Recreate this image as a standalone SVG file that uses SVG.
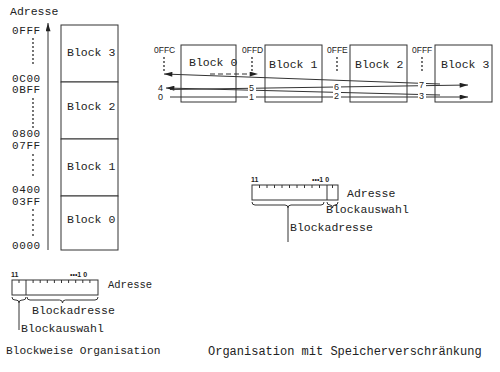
<svg xmlns="http://www.w3.org/2000/svg" width="500" height="372" viewBox="0 0 500 372">
<defs>
<marker id="ar" viewBox="0 0 10 6" refX="10" refY="3" markerWidth="9" markerHeight="5" orient="auto" markerUnits="userSpaceOnUse"><path d="M0,0 L10,3 L0,6 Z" fill="#222"/></marker>
</defs>
<style>
.t{font-family:"Liberation Mono",monospace;fill:#222}
.m{font-size:11.5px}
.a{font-size:11px;letter-spacing:0.6px}
.s{font-family:"Liberation Sans",sans-serif;font-size:8.5px;fill:#222}
.n{font-family:"Liberation Sans",sans-serif;font-size:9px;fill:#222}
.b{font-family:"Liberation Sans",sans-serif;font-size:7px;font-weight:bold;fill:#222}
.box{fill:#fff;stroke:#333;stroke-width:1}
.ln{fill:none;stroke:#333;stroke-width:1}
.dot{fill:#333}
</style>
<rect width="500" height="372" fill="#fff"/>

<!-- Left: blockwise organisation -->
<g id="axis">
<text class="t m" x="10" y="15">Adresse</text>
<line class="ln" x1="48" y1="250" x2="48" y2="23" marker-end="url(#ar)"/>
<text class="t a" x="12" y="34">0FFF</text>
<text class="t a" x="12" y="82">0C00</text>
<text class="t a" x="12" y="93">0BFF</text>
<text class="t a" x="12" y="137">0800</text>
<text class="t a" x="12" y="149">07FF</text>
<text class="t a" x="12" y="193">0400</text>
<text class="t a" x="12" y="205">03FF</text>
<text class="t a" x="12" y="249">0000</text>
<g class="dot">
<circle cx="33" cy="39" r="0.9"/><circle cx="33" cy="43" r="0.9"/><circle cx="33" cy="47" r="0.9"/><circle cx="33" cy="51" r="0.9"/><circle cx="33" cy="55" r="0.9"/><circle cx="33" cy="59" r="0.9"/><circle cx="33" cy="63" r="0.9"/>
<circle cx="33" cy="99" r="0.9"/><circle cx="33" cy="103" r="0.9"/><circle cx="33" cy="107" r="0.9"/><circle cx="33" cy="111" r="0.9"/><circle cx="33" cy="115" r="0.9"/><circle cx="33" cy="119" r="0.9"/><circle cx="33" cy="123" r="0.9"/><circle cx="33" cy="127" r="0.9"/>
<circle cx="33" cy="155" r="0.9"/><circle cx="33" cy="160" r="0.9"/><circle cx="33" cy="165" r="0.9"/><circle cx="33" cy="170" r="0.9"/><circle cx="33" cy="175" r="0.9"/>
<circle cx="33" cy="210" r="0.9"/><circle cx="33" cy="215" r="0.9"/><circle cx="33" cy="220" r="0.9"/><circle cx="33" cy="225" r="0.9"/><circle cx="33" cy="230" r="0.9"/><circle cx="33" cy="235" r="0.9"/>
</g>
</g>
<g id="lblock3"><rect class="box" x="61" y="25" width="57" height="57"/><text class="t m" x="67" y="56">Block 3</text></g>
<g id="lblock2"><rect class="box" x="61" y="82" width="57" height="57"/><text class="t m" x="67" y="110">Block 2</text></g>
<g id="lblock1"><rect class="box" x="61" y="139" width="57" height="57"/><text class="t m" x="67" y="170">Block 1</text></g>
<g id="lblock0"><rect class="box" x="61" y="196" width="57" height="54"/><text class="t m" x="67" y="223">Block 0</text></g>

<g id="lreg">
<text class="b" x="11" y="277">11</text>
<text class="b" x="70" y="277">•••1 0</text>
<rect class="box" x="12" y="280" width="86" height="15"/>
<line class="ln" x1="26" y1="280" x2="26" y2="295"/>
<path class="ln" d="M19,280v3 M33.1,280v3 M40.2,280v3 M47.3,280v3 M54.4,280v3 M61.5,280v3 M68.6,280v3 M75.7,280v3 M82.8,280v3 M89.9,280v3"/>
<text class="t" x="108" y="288" style="font-size:10.5px">Adresse</text>
<path class="ln" d="M12,297 q0,3 3,3 h1 q3,0 3,3 q0,-3 3,-3 h1 q3,0 3,-3"/>
<path class="ln" d="M27,297 q0,3 3,3 h29.5 q3,0 3,3 q0,-3 3,-3 h29.5 q3,0 3,-3"/>
<line class="ln" x1="19" y1="303" x2="19" y2="330"/>
<text class="t m" x="32" y="314">Blockadresse</text>
<text class="t m" x="21" y="332">Blockauswahl</text>
<text class="t" x="6" y="354" style="font-size:11.2px">Blockweise Organisation</text>
</g>

<!-- Right: interleaved organisation -->
<g id="rblock0">
<rect class="box" x="181" y="45" width="55" height="57"/>
<text class="t m" x="189" y="66">Block 0</text>
<text class="s" x="154" y="53">0FFC</text>
</g>
<g id="rblock1">
<rect class="box" x="265" y="45" width="57" height="57"/>
<text class="t m" x="269" y="68">Block 1</text>
<text class="s" x="242" y="53">0FFD</text>
</g>
<g id="rblock2">
<rect class="box" x="350" y="45" width="57" height="57"/>
<text class="t m" x="355" y="68">Block 2</text>
<text class="s" x="327" y="53">0FFE</text>
</g>
<g id="rblock3">
<rect class="box" x="435" y="45" width="57" height="57"/>
<text class="t m" x="441" y="68">Block 3</text>
<text class="s" x="412" y="53">0FFF</text>
</g>
<g class="dot">
<circle cx="164" cy="58" r="0.9"/><circle cx="164" cy="62" r="0.9"/><circle cx="164" cy="66" r="0.9"/><circle cx="164" cy="70" r="0.9"/>
<circle cx="252" cy="58" r="0.9"/><circle cx="252" cy="62" r="0.9"/><circle cx="252" cy="66" r="0.9"/><circle cx="252" cy="70" r="0.9"/>
<circle cx="337" cy="58" r="0.9"/><circle cx="337" cy="62" r="0.9"/><circle cx="337" cy="66" r="0.9"/><circle cx="337" cy="70" r="0.9"/>
<circle cx="422" cy="58" r="0.9"/><circle cx="422" cy="62" r="0.9"/><circle cx="422" cy="66" r="0.9"/><circle cx="422" cy="70" r="0.9"/>
</g>

<g id="connectors">
<line class="ln" x1="170" y1="97" x2="468" y2="97" marker-end="url(#ar)"/>
<line class="ln" x1="440" y1="95" x2="166" y2="88" marker-end="url(#ar)"/>
<line class="ln" x1="170" y1="89.5" x2="468" y2="85" marker-end="url(#ar)"/>
<line class="ln" x1="440" y1="84" x2="164" y2="74" marker-end="url(#ar)"/>
<line class="ln" x1="210" y1="74" x2="258" y2="74" stroke-dasharray="5,3" marker-end="url(#ar)"/>
</g>
<g id="seqlabels">
<rect x="157" y="82" width="7" height="20" fill="#fff"/>
<text class="n" x="158" y="91">4</text>
<text class="n" x="158" y="100">0</text>
<rect x="248" y="83" width="8" height="18" fill="#fff"/>
<text class="n" x="249" y="91">5</text>
<text class="n" x="249" y="100">1</text>
<rect x="333" y="83" width="8" height="18" fill="#fff"/>
<text class="n" x="334" y="90">6</text>
<text class="n" x="334" y="99">2</text>
<rect x="418" y="81" width="8" height="19" fill="#fff"/>
<text class="n" x="419" y="88">7</text>
<text class="n" x="419" y="99">3</text>
</g>

<g id="rreg">
<text class="b" x="251" y="182">11</text>
<text class="b" x="312" y="182">•••1 0</text>
<rect class="box" x="252" y="185" width="86" height="15"/>
<line class="ln" x1="327" y1="185" x2="327" y2="200"/>
<path class="ln" d="M259.5,185v3 M267,185v3 M274.5,185v3 M282,185v3 M289.5,185v3 M297,185v3 M304.5,185v3 M312,185v3 M319.5,185v3 M332.5,185v3"/>
<text class="t m" x="347" y="197">Adresse</text>
<path class="ln" d="M252,202 q0,3 3,3 h30 q3,0 3,3 q0,-3 3,-3 h30 q3,0 3,-3"/>
<path class="ln" d="M327,202 q0,3 3,3 h0 q2.5,0 2.5,3 q0,-3 2.5,-3 h0 q3,0 3,-3"/>
<line class="ln" x1="288" y1="208" x2="288" y2="242"/>
<text class="t m" x="326" y="213">Blockauswahl</text>
<text class="t m" x="290" y="231">Blockadresse</text>
<text class="t" x="208" y="355" style="font-size:12px">Organisation mit Speicherverschränkung</text>
</g>
</svg>
